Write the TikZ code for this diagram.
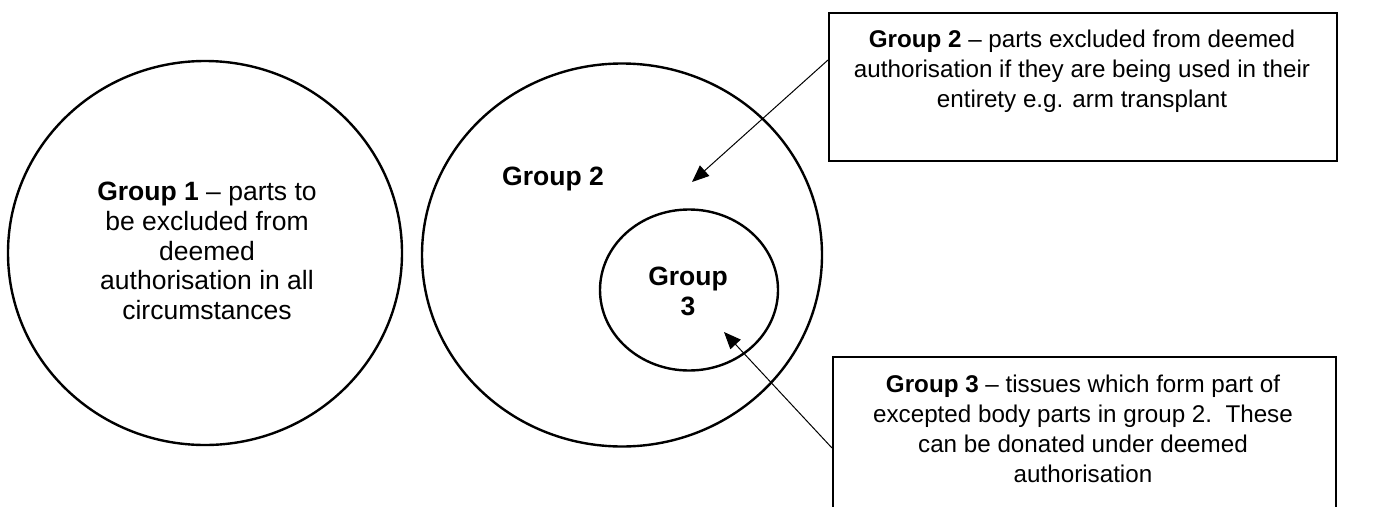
\documentclass[tikz,border=0pt]{standalone}
\usepackage{fontspec}
\setmainfont{Liberation Sans}
\usetikzlibrary{shapes.geometric,arrows.meta,calc}
\begin{document}
\begin{tikzpicture}[x=1pt,y=-1pt,
  setcircle/.style={draw,ellipse,line width=2.4pt,inner sep=0pt},
  infobox/.style={draw,rectangle,line width=1.8pt,anchor=north west,inner sep=0pt},
  txt/.style={align=center,font=\fontsize{24.2}{30}\selectfont,inner sep=0pt},
  ctxt/.style={align=center,font=\fontsize{26.5}{29.7}\selectfont,inner sep=0pt},
  pointer/.style={line width=1pt,-{Triangle[length=17pt,width=14pt]}}]
\useasboundingbox (0,0) rectangle (1389,506);
\clip (0,0) rectangle (1389,506);
% circles
\node[setcircle,minimum width=394pt,minimum height=384pt] (g1) at (205,253) {};
\node[ctxt] (g1t) at (207,251) {\textbf{Group 1} -- parts to\\be excluded from\\deemed\\authorisation in all\\circumstances};
\node[setcircle,minimum width=400pt,minimum height=383pt] (g2) at (622,255) {};
\node[ctxt,font=\fontsize{26.5}{29.7}\selectfont\bfseries] (g2t) at (553,179) {Group 2};
\node[setcircle,minimum width=178pt,minimum height=161pt] (g3) at (689,290) {};
\node[ctxt,font=\fontsize{26.5}{30}\selectfont\bfseries] (g3t) at (688,291) {Group\\3};
% boxes
\node[infobox,minimum width=508pt,minimum height=148pt] (b1) at (828,12) {};
\node[txt] (b1t) at (1082,71) {\textbf{Group 2} -- parts excluded from deemed\\authorisation if they are being used in their\\entirety e.g. arm transplant};
\node[infobox,minimum width=503pt,minimum height=200pt] (b2) at (832,356) {};
\node[txt] (b2t) at (1083,429) {\textbf{Group 3} -- tissues which form part of\\excepted body parts in group 2.\ \ These\\can be donated under deemed\\authorisation};
% arrows
\coordinate (t1) at (692,182);
\coordinate (t2) at (724,332);
\draw[pointer] ($(b1.north west)+(0,48)$) -- (t1);
\draw[pointer] ($(b2.north west)+(0,92)$) -- (t2);
\end{tikzpicture}
\end{document}
